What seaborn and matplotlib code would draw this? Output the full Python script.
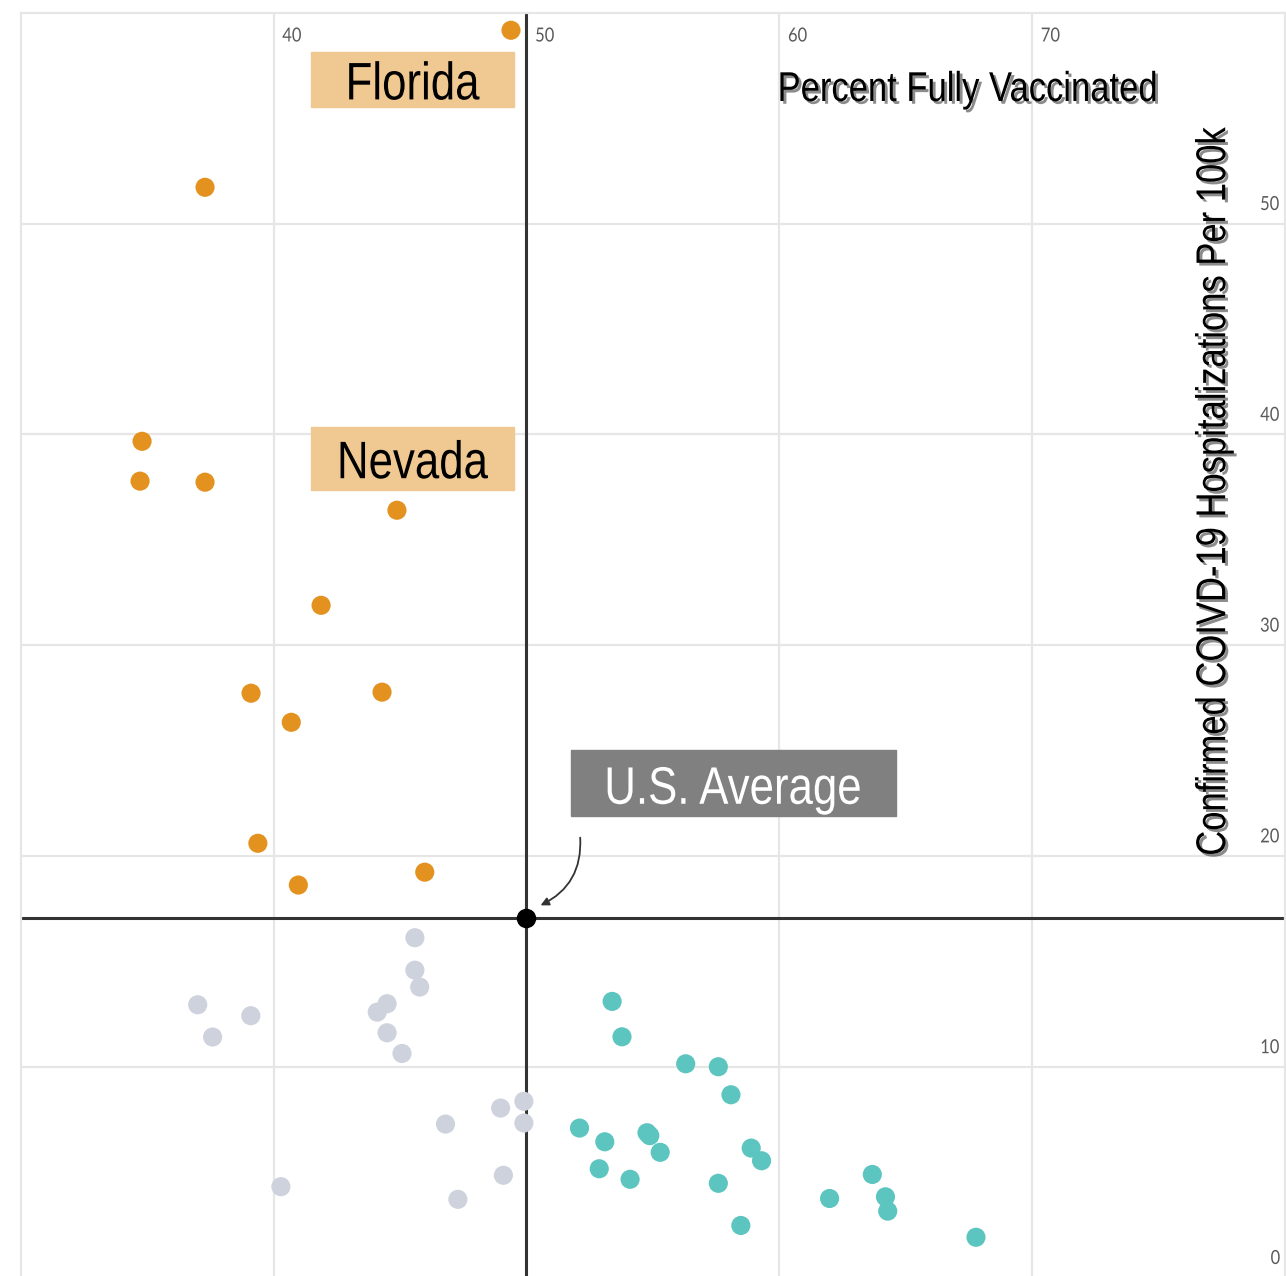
"""
Vaccination rate vs COVID-19 hospitalizations by state.
"""

import matplotlib.pyplot as plt
import matplotlib.patheffects as pe
import pandas as pd
import seaborn as sns
from matplotlib.patches import Rectangle
from matplotlib.transforms import Affine2D


# percent fully vaccinated / hospitalizations per 100k
ABOVE_X = [49.39, 37.29, 34.80, 34.72, 37.29, 44.88, 41.88,
           39.11, 44.29, 40.70, 39.38, 45.98, 40.98]
ABOVE_Y = [59.17, 51.72, 39.67, 37.78, 37.73, 36.40, 31.89,
           27.72, 27.77, 26.34, 20.60, 19.23, 18.62]

MIDDLE_X = [45.59, 45.59, 45.78, 44.49, 44.10, 44.49, 45.08, 37.00,
            39.10, 37.59, 48.98, 49.90, 49.90, 46.80, 40.29, 49.09, 47.29]
MIDDLE_Y = [16.12, 14.58, 13.78, 12.99, 12.59, 11.61, 10.63, 12.94,
            12.42, 11.41, 8.04, 8.36, 7.33, 7.28, 4.31, 4.85, 3.71]

BELOW_X = [53.39, 53.78, 56.30, 57.59, 58.09, 52.10, 53.10, 54.77,
           54.88, 55.29, 52.88, 54.10, 57.59, 58.89, 59.30, 58.48,
           61.99, 63.68, 64.20, 64.29, 67.78]
BELOW_Y = [13.10, 11.42, 10.14, 10.00, 8.67, 7.09, 6.44, 6.87,
           6.73, 5.94, 5.16, 4.66, 4.47, 6.14, 5.54, 2.47,
           3.75, 4.89, 3.83, 3.15, 1.91]

US_AVG_X = 50.0
US_AVG_Y = 17.05

X_TICKS = [40, 50, 60, 70]
Y_TICKS = [0, 10, 20, 30, 40, 50]

GROUP_COLORS = {"above": "#E3921F", "middle": "#CDD2DC", "below": "#5CC5BF"}

SANS = ["Liberation Sans", "DejaVu Sans"]


class Squeeze(pe.AbstractPathEffect):
    """Narrow the glyphs around the middle of the text (no narrow font here)."""

    def __init__(self, factor, inner=None):
        super().__init__()
        self.factor = factor
        self.inner = inner or [pe.Normal()]

    def draw_path(self, renderer, gc, tpath, affine, rgbFace=None):
        xs = tpath.vertices[:, 0]
        mid = (xs.min() + xs.max()) / 2
        squeeze = Affine2D().translate(-mid, 0).scale(self.factor, 1).translate(mid, 0)
        for effect in self.inner:
            effect.draw_path(renderer, gc, tpath, squeeze + affine, rgbFace)


def build_dataframe() -> pd.DataFrame:
    frames = []
    for name, xs, ys in [("middle", MIDDLE_X, MIDDLE_Y),
                         ("below", BELOW_X, BELOW_Y),
                         ("above", ABOVE_X, ABOVE_Y)]:
        frames.append(pd.DataFrame({"vaccinated": xs,
                                    "hospitalized": ys,
                                    "group": name}))
    return pd.concat(frames, ignore_index=True)


def main() -> None:
    sns.set_style("white")
    df = build_dataframe()

    fig = plt.figure(figsize=(12.86, 12.76), dpi=100)
    ax = fig.add_axes([0.0161, -0.0012, 0.9831, 0.9912])

    ax.set_xlim(30, 80)
    ax.set_ylim(0, 60)

    # light grid
    for xv in X_TICKS:
        ax.axvline(xv, color="#E6E6E6", lw=1.6, zorder=0)
    for yv in Y_TICKS:
        ax.axhline(yv, color="#E6E6E6", lw=1.6, zorder=0)
    for side in ax.spines.values():
        side.set_color("#E6E6E6")
        side.set_linewidth(1.6)
    ax.set_xticks([])
    ax.set_yticks([])

    # tick labels drawn inside the plot
    tick_fx = [Squeeze(0.85)]
    for xv in X_TICKS:
        ax.text(xv + 0.28, 59.3, str(xv), ha="left", va="top",
                fontsize=14, color="#5A5A5A", family="Lato",
                path_effects=tick_fx)
    for yv in Y_TICKS:
        ax.text(79.85, yv + 0.5, str(yv), ha="right", va="bottom",
                fontsize=14, color="#5A5A5A", family="Lato",
                path_effects=tick_fx)

    # U.S. average cross
    ax.axvline(US_AVG_X, color="#333333", lw=2.2, zorder=1)
    ax.axhline(US_AVG_Y, color="#333333", lw=2.2, zorder=1)

    sns.scatterplot(data=df, x="vaccinated", y="hospitalized", hue="group",
                    palette=GROUP_COLORS, s=190, linewidth=0, legend=False,
                    ax=ax, zorder=3)
    ax.scatter([US_AVG_X], [US_AVG_Y], s=170, color="black", zorder=4)
    ax.set_xlabel("")
    ax.set_ylabel("")

    narrow = [Squeeze(0.83)]

    # state labels
    for label, (x0, y0, x1, y1) in [("Florida", (41.48, 55.51, 49.51, 58.12)),
                                    ("Nevada", (41.48, 37.35, 49.51, 40.34))]:
        ax.add_patch(Rectangle((x0, y0), x1 - x0, y1 - y0,
                               color="#F0C891", zorder=2))
        ax.text((x0 + x1) / 2, (y0 + y1) / 2, label, ha="center",
                va="center_baseline", fontsize=38, family=SANS,
                color="black", path_effects=narrow, zorder=3)

    ax.add_patch(Rectangle((51.76, 21.89), 12.85, 3.13,
                           color="#808080", zorder=2))
    ax.text(58.18, 23.4, "U.S. Average", ha="center",
            va="center_baseline", fontsize=38, family=SANS,
            color="white", path_effects=narrow, zorder=3)

    ax.annotate("", xy=(50.46, 17.6), xytext=(52.12, 21.0),
                arrowprops=dict(arrowstyle="-|>", color="#333333", lw=1.3,
                                mutation_scale=12,
                                connectionstyle="arc3,rad=-0.35"),
                zorder=3)

    shadow = [Squeeze(0.83, [pe.SimplePatchShadow(offset=(2, -2), alpha=0.45),
                             pe.Normal()])]
    ax.text(67.44, 56.55, "Percent Fully Vaccinated", ha="center",
            va="center_baseline", fontsize=30, family=SANS,
            color="black", path_effects=shadow, zorder=3)
    ax.text(77.2, 37.25, "Confirmed COIVD-19 Hospitalizations Per 100k",
            ha="center", va="center", rotation=90, fontsize=30,
            family=SANS, color="black", path_effects=shadow, zorder=3)

    fig.savefig("out.png", dpi=100)


if __name__ == "__main__":
    main()
